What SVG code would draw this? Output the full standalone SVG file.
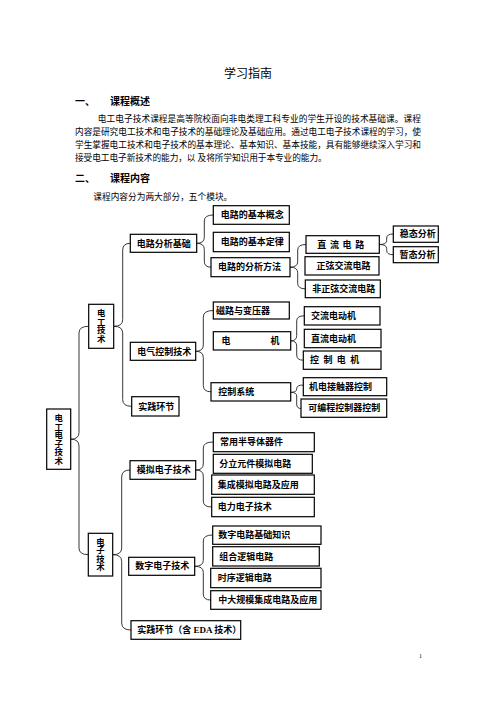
<svg xmlns="http://www.w3.org/2000/svg" width="496" height="702" viewBox="0 0 496 702">
<style>
text{font-family:"Liberation Serif","Noto Sans CJK SC",serif;fill:#000}
.t{font-size:12px}
.h{font-size:10px;font-weight:bold}
.p{font-size:8.7px}
.n{font-size:9px;font-weight:bold}
.v{font-size:8.4px;font-weight:bold}
.b{fill:#fff;stroke:#000;stroke-width:1.2}
.c{fill:none;stroke:#222;stroke-width:0.9}
</style>
<rect width="496" height="702" fill="#fff"/>
<text class="t" x="248" y="78" text-anchor="middle">学习指南</text>
<text class="h" x="75" y="105">一、</text>
<text class="h" x="110" y="105">课程概述</text>
<text class="p" x="97.7" y="121.5" textLength="323.3" lengthAdjust="spacing">电工电子技术课程是高等院校面向非电类理工科专业的学生开设的技术基础课。课程</text>
<text class="p" x="75" y="134.5" textLength="346" lengthAdjust="spacing">内容是研究电工技术和电子技术的基础理论及基础应用。通过电工电子技术课程的学习，使</text>
<text class="p" x="75" y="148" textLength="346" lengthAdjust="spacing">学生掌握电工技术和电子技术的基本理论、基本知识、基本技能，具有能够继续深入学习和</text>
<text class="p" x="75" y="161" textLength="251.7" lengthAdjust="spacing">接受电工电子新技术的能力，以 及将所学知识用于本专业的能力。</text>
<text class="h" x="75" y="182">二、</text>
<text class="h" x="110" y="182">课程内容</text>
<text class="p" x="93.3" y="199.5">课程内容分为两大部分，五个模块。</text>

<g id="connectors">
<path class="c" d="M88.5,326.3 Q79,326.3 79,333 L79,432.5 Q79,439.2 70.7,439.2 Q79,439.2 79,446 L79,548 Q79,554.7 88.5,554.7"/>
<path class="c" d="M130.3,243.3 Q122.7,243.3 122.7,250 L122.7,319.6 Q122.7,326.3 113.7,326.3 Q122.7,326.3 122.7,333 L122.7,399.6 Q122.7,406.3 131.7,406.3"/>
<path class="c" d="M213.3,215 Q204.3,215 204.3,221 L204.3,237.3 Q204.3,243.3 196.7,243.3 Q204.3,243.3 204.3,249.3 L204.3,261.2 Q204.3,267.2 211,267.2"/>
<path class="c" d="M306,244.5 Q297.7,244.5 297.7,250 L297.7,261.7 Q297.7,267.2 290,267.2 Q297.7,267.2 297.7,272.7 L297.7,283.3 Q297.7,288.8 305.3,288.8"/>
<path class="c" d="M393.3,234 Q386.7,234 386.7,238 L386.7,240.5 Q386.7,244.5 379.3,244.5 Q386.7,244.5 386.7,248.5 L386.7,250.7 Q386.7,254.7 393.3,254.7"/>
<path class="c" d="M213.3,310.5 Q203.3,310.5 203.3,317 L203.3,345 Q203.3,351.3 195.7,351.3 Q203.3,351.3 203.3,357.6 L203.3,385.5 Q203.3,391.8 211,391.8"/>
<path class="c" d="M304.3,315.8 Q296.7,315.8 296.7,321 L296.7,335.6 Q296.7,340.8 290.7,340.8 Q296.7,340.8 296.7,346 L296.7,355 Q296.7,360.2 303.3,360.2"/>
<path class="c" d="M303.3,385 Q296.7,385 296.7,388.5 L296.7,389 Q296.7,392.3 290.7,392.3 Q296.7,392.3 296.7,396 L296.7,404 Q296.7,408.5 301,408.5"/>
<path class="c" d="M130,470 Q121.7,470 121.7,477 L121.7,548 Q121.7,554.7 112.7,554.7 Q121.7,554.7 121.7,561.4 L121.7,623 Q121.7,630 131,630"/>
<path class="c" d="M213.3,442 Q203.3,442 203.3,448 L203.3,464 Q203.3,470 195.7,470 Q203.3,470 203.3,476 L203.3,501 Q203.3,507 211.7,507"/>
<path class="c" d="M212.7,535 Q203.3,535 203.3,541 L203.3,560.3 Q203.3,566.3 194.7,566.3 Q203.3,566.3 203.3,572.3 L203.3,594 Q203.3,600 210.7,600"/>
</g>

<g id="n_root"><rect class="b" x="46.7" y="409" width="24" height="60.3"/>
<text class="v" text-anchor="middle"><tspan x="58.7" y="421">电</tspan><tspan x="58.7" y="429.5">工</tspan><tspan x="58.7" y="438">电</tspan><tspan x="58.7" y="446.5">子</tspan><tspan x="58.7" y="455">技</tspan><tspan x="58.7" y="463.5">术</tspan></text></g>
<g id="n_dg"><rect class="b" x="88.7" y="304.3" width="25" height="44"/>
<text class="v" text-anchor="middle"><tspan x="101.2" y="316">电</tspan><tspan x="101.2" y="324.5">工</tspan><tspan x="101.2" y="333">技</tspan><tspan x="101.2" y="341.5">术</tspan></text></g>
<g id="n_dz"><rect class="b" x="88.3" y="533.3" width="24.4" height="42.7"/>
<text class="v" text-anchor="middle"><tspan x="100.5" y="544.5">电</tspan><tspan x="100.5" y="553">子</tspan><tspan x="100.5" y="561.5">技</tspan><tspan x="100.5" y="570">术</tspan></text></g>

<g id="n_dlfx"><rect class="b" x="130.3" y="234.3" width="66.4" height="18"/><text class="n" x="136.7" y="246.5">电路分析基础</text></g>
<g id="n_dqkz"><rect class="b" x="130.3" y="342.3" width="65.4" height="18"/><text class="n" x="137.3" y="354.5">电气控制技术</text></g>
<g id="n_sj1"><rect class="b" x="131.7" y="396.7" width="47.3" height="19.3"/><text class="n" x="138.3" y="409.5">实践环节</text></g>

<g id="n_gn"><rect class="b" x="213.3" y="205.7" width="76" height="18.6"/><text class="n" x="220.7" y="218">电路的基本概念</text></g>
<g id="n_dl"><rect class="b" x="213.3" y="232.3" width="76" height="19.4"/><text class="n" x="220.7" y="245">电路的基本定律</text></g>
<g id="n_ff"><rect class="b" x="211" y="257.7" width="79" height="19"/><text class="n" x="218" y="270.3">电路的分析方法</text></g>

<g id="n_zl"><rect class="b" x="306" y="235.7" width="73.3" height="17.6"/><text class="n" x="317.3" y="247.7" textLength="47" lengthAdjust="spacing">直流电路</text></g>
<g id="n_zx"><rect class="b" x="305" y="256.7" width="74" height="18.3"/><text class="n" x="316.5" y="269">正弦交流电路</text></g>
<g id="n_fzx"><rect class="b" x="305.3" y="280" width="75" height="17.7"/><text class="n" x="312.3" y="292">非正弦交流电路</text></g>

<g id="n_wt"><rect class="b" x="393.3" y="226" width="45" height="16.3"/><text class="n" x="399.8" y="237.3">稳态分析</text></g>
<g id="n_zt"><rect class="b" x="393.3" y="246.7" width="45" height="16"/><text class="n" x="399.5" y="257.8">暂态分析</text></g>

<g id="n_cl"><rect class="b" x="213.3" y="302" width="76" height="17"/><text class="n" x="216" y="313.7">磁路与变压器</text></g>
<g id="n_dj"><rect class="b" x="213.3" y="331.7" width="77.4" height="18.3"/><text class="n" x="221.5" y="344">电</text><text class="n" x="270.5" y="344">机</text></g>
<g id="n_kz"><rect class="b" x="211" y="382.7" width="79.7" height="18.3"/><text class="n" x="218.3" y="395">控制系统</text></g>

<g id="n_jl"><rect class="b" x="304.3" y="306.7" width="75.7" height="18.3"/><text class="n" x="311" y="319">交流电动机</text></g>
<g id="n_zld"><rect class="b" x="304.3" y="329.3" width="76.7" height="18.4"/><text class="n" x="311" y="341.6">直流电动机</text></g>
<g id="n_kzdj"><rect class="b" x="303.3" y="351" width="77.7" height="18.3"/><text class="n" x="310" y="363.3" textLength="49.3" lengthAdjust="spacing">控制电机</text></g>

<g id="n_jd"><rect class="b" x="303.3" y="377.7" width="83.4" height="18"/><text class="n" x="309" y="389.8">机电接触器控制</text></g>
<g id="n_kb"><rect class="b" x="301" y="399" width="85.7" height="18.3"/><text class="n" x="308.3" y="411.3">可编程控制器控制</text></g>

<g id="n_mn"><rect class="b" x="130" y="460.7" width="65.7" height="18.6"/><text class="n" x="136.7" y="473.1">模拟电子技术</text></g>
<g id="n_sz"><rect class="b" x="128.7" y="557.3" width="66" height="18"/><text class="n" x="135.3" y="569.4">数字电子技术</text></g>

<g id="n_cy"><rect class="b" x="213.3" y="432.7" width="101" height="19"/><text class="n" x="220" y="445.3">常用半导体器件</text></g>
<g id="n_fl"><rect class="b" x="213.3" y="454.3" width="99" height="19"/><text class="n" x="219.3" y="466.9">分立元件模拟电路</text></g>
<g id="n_jc"><rect class="b" x="211.7" y="475" width="102.6" height="19.3"/><text class="n" x="217.7" y="487.8">集成模拟电路及应用</text></g>
<g id="n_dldz"><rect class="b" x="211.7" y="497.3" width="102.6" height="19.4"/><text class="n" x="217.7" y="510.1">电力电子技术</text></g>

<g id="n_szjc"><rect class="b" x="212.7" y="526" width="108.3" height="18.3"/><text class="n" x="218.3" y="538.3">数字电路基础知识</text></g>
<g id="n_zh"><rect class="b" x="212.7" y="546.7" width="106.6" height="19.3"/><text class="n" x="219.3" y="559.5">组合逻辑电路</text></g>
<g id="n_sx"><rect class="b" x="210.7" y="568.3" width="110.3" height="19.4"/><text class="n" x="217.7" y="581.1">时序逻辑电路</text></g>
<g id="n_zd"><rect class="b" x="210.7" y="590.7" width="110.3" height="18.6"/><text class="n" x="218.3" y="603.1">中大规模集成电路及应用</text></g>

<g id="n_sj2"><rect class="b" x="131" y="620.7" width="109.7" height="18.6"/><text class="n" x="137.3" y="633.1">实践环节（含 EDA 技术）</text></g>

<text x="419" y="658" style="font-size:6px">1</text>
</svg>
